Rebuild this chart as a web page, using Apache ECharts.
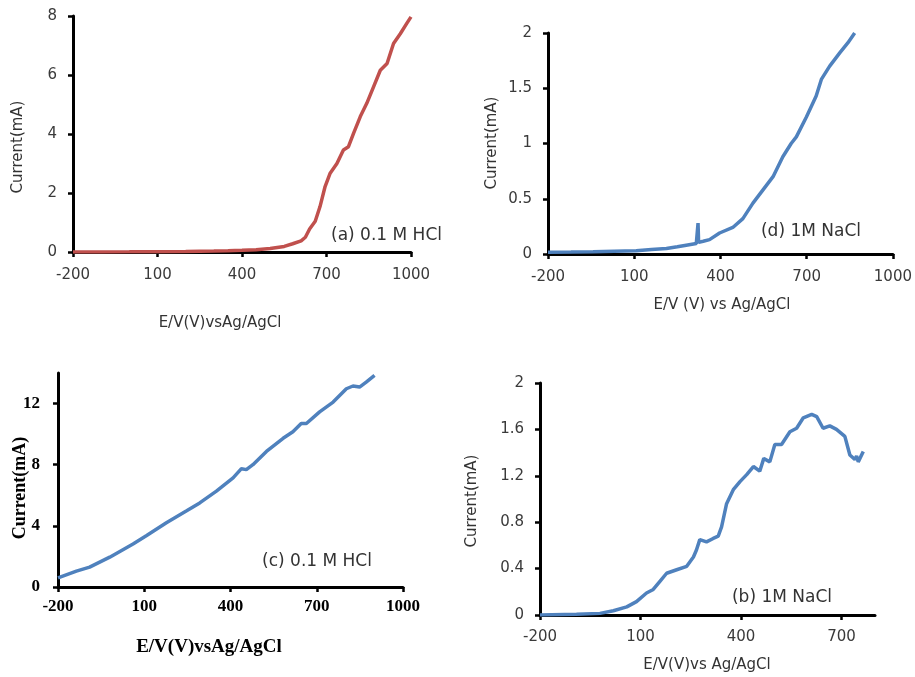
<!DOCTYPE html>
<html><head><meta charset="utf-8">
<script src="https://cdn.jsdelivr.net/npm/echarts@6/dist/echarts.min.js"></script>
<style>html,body{margin:0;padding:0;background:#fff}#c{width:915px;height:677px}</style>
</head><body><div id="c"></div>
<script>
// (a) 0.1 M HCl (red)
var aE = [-200,-100,0,100,200,300,350,400,450,500,550,580,610,625,640,660,677,695,713,737,760,778,796,820,843,867,891,915,938,962,985,1000];
var aI = [0,0.002,0.005,0.01,0.02,0.035,0.045,0.06,0.08,0.12,0.19,0.28,0.38,0.5,0.78,1.04,1.54,2.22,2.67,3.0,3.46,3.57,4.02,4.59,5.04,5.6,6.16,6.39,7.07,7.4,7.75,7.97];
// (d) 1M NaCl (blue, top right)
var dE = [-200,-120,-43,30,107,160,212,250,281,316,322,322,324,340,362,397,443,478,513,548,583,617,646,664,699,733,751,780,815,843,867];
var dI = [0.015,0.017,0.02,0.025,0.03,0.04,0.05,0.065,0.08,0.095,0.1,0.28,0.105,0.115,0.13,0.19,0.24,0.32,0.46,0.58,0.7,0.88,1.0,1.06,1.24,1.43,1.58,1.7,1.82,1.91,2.0];
// (c) 0.1 M HCl (blue, bottom left)
var cE = [-200,-136,-90,-20,61,107,177,246,293,351,409,438,455,478,525,583,617,646,664,710,757,803,826,849,872,901];
var cI = [0.6,1.04,1.3,1.95,2.81,3.35,4.2,4.97,5.5,6.27,7.14,7.74,7.68,8.0,8.87,9.73,10.16,10.7,10.7,11.46,12.1,12.97,13.15,13.08,13.4,13.84];
// (b) 1M NaCl (blue, bottom right)
var bE = [-200,-91,-21,19,59,88,118,138,158,178,208,238,258,267,277,297,317,332,342,357,377,397,417,437,456,468,486,501,521,546,566,586,611,626,645,665,685,710,725,740,745,750,765];
var bI = [0,0.006,0.014,0.037,0.07,0.115,0.19,0.22,0.29,0.36,0.39,0.42,0.5,0.56,0.65,0.63,0.66,0.68,0.76,0.96,1.08,1.15,1.21,1.28,1.24,1.35,1.32,1.47,1.47,1.58,1.61,1.70,1.73,1.71,1.61,1.63,1.6,1.54,1.38,1.34,1.37,1.32,1.41];

function zip(x,y){return x.map(function(v,i){return [v,y[i]];});}

var sans = 'DejaVu Sans';
var serif = 'Liberation Serif';
var lblCol = '#3a3a3a';
function plain(v){return String(v);}

function xAx(gi, max, font, size, bold, margin, col){
  return {type:'value', gridIndex:gi, min:-200, max:max, interval:300,
    axisLine:{show:true, onZero:false, lineStyle:{color:'#000', width:3}},
    axisTick:{show:true, length:5, lineStyle:{color:'#000', width:2.5}},
    splitLine:{show:false},
    axisLabel:{fontFamily:font, fontSize:size, fontWeight:bold?'bold':'normal', color:col, margin:margin, showMaxLabel: max===1000, formatter:plain}};
}
function yAx(gi, max, interval, font, size, bold, margin, col, showMax){
  return {type:'value', gridIndex:gi, min:0, max:max, interval:interval,
    axisLine:{show:true, onZero:false, lineStyle:{color:'#000', width:3}},
    axisTick:{show:true, length:5, lineStyle:{color:'#000', width:2.5}},
    splitLine:{show:false},
    axisLabel:{fontFamily:font, fontSize:size, fontWeight:bold?'bold':'normal', color:col, margin:margin, showMaxLabel:showMax, formatter:plain}};
}
function txt(x,y,s,font,size,bold,rot,bg){
  return {type:'text', x:x, y:y, rotation:rot||0, z:100,
    style:{text:s, fontFamily:font, fontSize:size, fontWeight:bold?'bold':'normal', fill:bold?'#000':'#333',
      align:'center', verticalAlign:'middle', backgroundColor:bg||null, padding:bg?[1,3,1,12]:0}};
}

var chart = echarts.init(document.getElementById('c'), null, {renderer:'canvas'});
chart.setOption({
  animation:false,
  backgroundColor:'#fff',
  grid:[
    {left:73, top:16, width:338, height:236},
    {left:548, top:33, width:345, height:221},
    {left:58, top:373, width:345, height:214},
    {left:540, top:383, width:335, height:232}
  ],
  xAxis:[
    xAx(0,1000,sans,15,false,16,lblCol),
    xAx(1,1000,sans,15,false,16,lblCol),
    xAx(2,1000,serif,17,true,11,'#000'),
    xAx(3,800,sans,15,false,15,lblCol)
  ],
  yAxis:[
    yAx(0,8,2,sans,15,false,16,lblCol,true),
    yAx(1,2,0.5,sans,15,false,16,lblCol,true),
    yAx(2,14,4,serif,17,true,18,'#000',false),
    yAx(3,2,0.4,sans,15,false,16,lblCol,true)
  ],
  series:[
    {type:'line', xAxisIndex:0, yAxisIndex:0, data:zip(aE,aI), showSymbol:false, lineStyle:{color:'#C0504D', width:3.5}, itemStyle:{color:'#C0504D'}},
    {type:'line', xAxisIndex:1, yAxisIndex:1, data:zip(dE,dI), showSymbol:false, lineStyle:{color:'#4F81BD', width:3.5}, itemStyle:{color:'#4F81BD'}},
    {type:'line', xAxisIndex:2, yAxisIndex:2, data:zip(cE,cI), showSymbol:false, lineStyle:{color:'#4F81BD', width:3.5}, itemStyle:{color:'#4F81BD'}},
    {type:'line', xAxisIndex:3, yAxisIndex:3, data:zip(bE,bI), showSymbol:false, lineStyle:{color:'#4F81BD', width:3.5}, itemStyle:{color:'#4F81BD'}}
  ],
  graphic:[
    txt(18,147,'Current(mA)',sans,15,false,Math.PI/2),
    txt(220,323,'E/V(V)vsAg/AgCl',sans,15,false),
    txt(382,236,'(a) 0.1 M HCl',sans,17,false,0,'#fff'),
    txt(492,143,'Current(mA)',sans,15,false,Math.PI/2),
    txt(722,305,'E/V (V) vs Ag/AgCl',sans,15,false),
    txt(811,232,'(d) 1M NaCl',sans,17,false),
    txt(20,488,'Current(mA)',serif,18,true,Math.PI/2),
    txt(209,647,'E/V(V)vsAg/AgCl',serif,19,true),
    txt(317,562,'(c) 0.1 M HCl',sans,17,false),
    txt(472,501,'Current(mA)',sans,15,false,Math.PI/2),
    txt(707,665,'E/V(V)vs Ag/AgCl',sans,15,false),
    txt(782,598,'(b) 1M NaCl',sans,17,false)
  ]
});
</script></body></html>
